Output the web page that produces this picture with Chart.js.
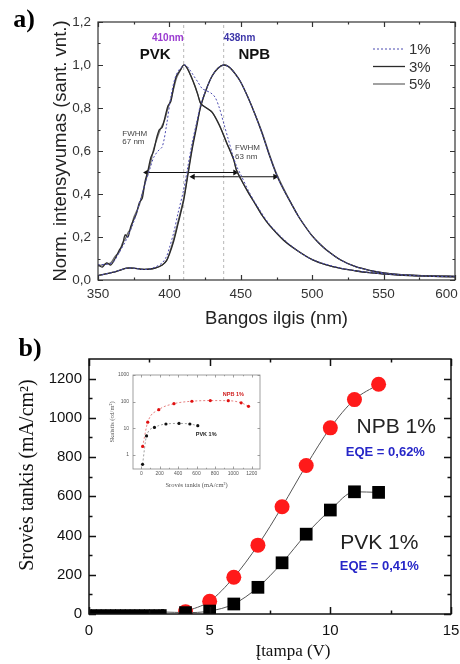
<!DOCTYPE html>
<html>
<head>
<meta charset="utf-8">
<script src="https://cdn.jsdelivr.net/npm/chart.js@4.4.1/dist/chart.umd.min.js"></script>
<style>
  html, body { margin: 0; padding: 0; background: #fff; }
  #wrap { position: relative; width: 460px; height: 664px; overflow: hidden; }
  canvas { position: absolute; }
</style>
</head>
<body>
<div id="wrap">
  <canvas id="chartA" width="460" height="330" style="left:0;top:0"></canvas>
  <canvas id="chartB" width="460" height="334" style="left:0;top:330px"></canvas>
  <canvas id="inset" width="170" height="135" style="left:100px;top:360px"></canvas>
</div>
<script>
// ---- a) normalised EL spectra ----
var pvkWl = [350,353,356,359,362,365,367,369,371,373,375,377,379,381,383,385,387,389,391,393,395,397,399,401,403,405,408,410,412,415,418,420,422,426,430,435,440,445,447,450,455,460,465,470,480,490,500,510,520,530,540,550,560,580,600];
var pvk3 = [0.07,0.06,0.08,0.07,0.10,0.14,0.16,0.21,0.20,0.25,0.28,0.31,0.36,0.38,0.46,0.51,0.57,0.60,0.66,0.70,0.71,0.76,0.81,0.83,0.90,0.95,0.98,1.00,0.99,0.95,0.90,0.86,0.82,0.80,0.78,0.72,0.64,0.56,0.51,0.47,0.41,0.355,0.30,0.255,0.185,0.135,0.095,0.07,0.054,0.043,0.034,0.028,0.023,0.018,0.015];
var pvk5 = [0.065,0.07,0.075,0.08,0.11,0.13,0.17,0.19,0.22,0.24,0.29,0.32,0.35,0.40,0.45,0.50,0.55,0.61,0.65,0.69,0.72,0.75,0.80,0.84,0.89,0.94,0.98,1.00,0.99,0.95,0.90,0.86,0.82,0.80,0.78,0.72,0.64,0.56,0.51,0.47,0.41,0.355,0.30,0.255,0.185,0.135,0.095,0.07,0.054,0.043,0.034,0.028,0.023,0.018,0.015];
var pvk1Wl = [350,360,365,370,375,380,383,386,389,392,395,398,401,404,407,411,414,417,420,423,426,429,432,435,438,441,444,447,450,455,460,470,480,490,500,520,540,560,580,600];
var pvk1 = [0.07,0.08,0.13,0.19,0.27,0.38,0.45,0.51,0.57,0.60,0.62,0.72,0.85,0.94,0.98,1.00,0.98,0.95,0.92,0.89,0.88,0.87,0.85,0.80,0.73,0.66,0.59,0.53,0.49,0.42,0.36,0.26,0.19,0.135,0.095,0.055,0.035,0.024,0.018,0.015];
var npbWl = [350,360,365,370,375,380,385,390,395,398,400,403,406,410,413,416,419,422,426,430,434,438,442,446,450,455,460,465,470,475,480,485,490,495,500,505,510,520,530,540,550,560,570,580,590,600];
var npb3 = [0.02,0.035,0.045,0.055,0.055,0.05,0.05,0.055,0.07,0.09,0.12,0.18,0.26,0.37,0.49,0.61,0.71,0.81,0.89,0.95,0.985,1.00,0.99,0.96,0.92,0.85,0.77,0.68,0.58,0.49,0.42,0.36,0.30,0.25,0.205,0.17,0.14,0.093,0.063,0.045,0.033,0.026,0.022,0.02,0.018,0.017];
var npb5 = [0.02,0.035,0.045,0.055,0.055,0.05,0.05,0.055,0.07,0.09,0.125,0.19,0.27,0.38,0.50,0.62,0.72,0.81,0.89,0.95,0.985,1.00,0.99,0.96,0.92,0.85,0.77,0.685,0.585,0.495,0.425,0.36,0.30,0.25,0.205,0.17,0.14,0.093,0.063,0.045,0.033,0.026,0.022,0.02,0.018,0.017];
var npb1 = [0.02,0.035,0.045,0.055,0.055,0.05,0.05,0.06,0.08,0.11,0.15,0.22,0.31,0.42,0.53,0.64,0.73,0.82,0.89,0.95,0.985,1.00,0.99,0.96,0.92,0.85,0.77,0.68,0.58,0.49,0.42,0.36,0.30,0.25,0.205,0.17,0.14,0.093,0.063,0.045,0.033,0.026,0.022,0.02,0.018,0.017];
var peakWl = [410, 438];
var fwhmPvk = [384, 446];   // at 0.5
var fwhmNpb = [416.5, 474]; // at 0.48
var aTicksX = [350, 400, 450, 500, 550, 600];
var aTicksY = [0, 0.2, 0.4, 0.6, 0.8, 1.0, 1.2];

// ---- b) J-V ----
var lowVolt = [0,0.2,0.4,0.6,0.8,1,1.2,1.4,1.6,1.8,2,2.2,2.4,2.6,2.8,3,3.1];
var lowPvk = [10,10,10,10,10,10,10,10,10,10,10,10,10,10,10,10,10];
var volt = [4,5,6,7,8,9,10,11,12];
var npbJ = [12,65,187,351,547,757,949,1093,1171];
var pvkJ = [7,15,51,136,261,407,530,623,620];
var bTicksX = [0, 5, 10, 15];
var bTicksY = [0, 200, 400, 600, 800, 1000, 1200];

// ---- inset: luminance vs current density ----
var insetNpbJ = [15,70,190,355,550,750,945,1085,1165];
var insetNpbL = [2.1,17,50,84,104,110,109,91,67];
var insetPvkJ = [14,57,143,268,410,528,614];
var insetPvkL = [0.45,5.2,10.8,14.6,15.3,14.6,12.6];
var insetTicksX = [0, 200, 400, 600, 800, 1000, 1200];
var insetTicksY = [1, 10, 100, 1000];

var SANS = '"Liberation Sans", Arial, sans-serif';
var SERIF = '"Liberation Serif", "Times New Roman", serif';

const pts = (xs, ys) => xs.map((v, i) => ({ x: v, y: ys[i] }));
const useTicks = arr => s => { s.ticks = arr.map(v => ({ value: v })); };
// fixed axis box sizes so the plot areas land where the figure has them
const fitX = h => s => { s.height = h; s.paddingLeft = 0; s.paddingRight = 0; };
const fitY = w => s => { s.width = w; s.paddingTop = 0; s.paddingBottom = 0; };

// box round the plot with inward ticks on all four sides (Origin style)
const frameTicks = {
  id: 'frameTicks',
  afterDatasetsDraw(chart, args, o) {
    const { ctx, chartArea: a } = chart;
    const x = chart.scales.x, y = chart.scales.y;
    const mids = v => v.slice(1).map((b, i) => (v[i] + b) / 2);
    const xv = x.ticks.map(t => t.value), yv = y.ticks.map(t => t.value);
    ctx.save();
    ctx.strokeStyle = o.color;
    ctx.lineWidth = o.width;
    ctx.beginPath();
    const xs = (vals, len) => vals.forEach(v => {
      const p = Math.round(x.getPixelForValue(v)) + 0.5;
      ctx.moveTo(p, a.bottom); ctx.lineTo(p, a.bottom - len);
      ctx.moveTo(p, a.top); ctx.lineTo(p, a.top + len);
    });
    const ys = (vals, len) => vals.forEach(v => {
      const p = Math.round(y.getPixelForValue(v)) + 0.5;
      ctx.moveTo(a.left, p); ctx.lineTo(a.left + len, p);
      ctx.moveTo(a.right, p); ctx.lineTo(a.right - len, p);
    });
    xs(xv, o.len);
    ys(yv, o.len);
    if (o.minor) {
      xs(mids(xv), o.len / 2);
      if (o.minorY !== false) ys(mids(yv), o.len / 2);
    }
    ctx.stroke();
    ctx.strokeRect(a.left, a.top, a.right - a.left, a.bottom - a.top);
    ctx.restore();
  }
};

function notes(items) {
  return {
    id: 'notes',
    afterDatasetsDraw(chart) {
      const { ctx } = chart;
      const x = chart.scales.x, y = chart.scales.y;
      items.forEach(n => {
        ctx.save();
        ctx.font = n.font;
        ctx.fillStyle = n.color || '#222';
        ctx.textAlign = n.align || 'center';
        ctx.textBaseline = 'middle';
        const px = n.x !== undefined ? x.getPixelForValue(n.x) : n.px;
        const py = n.y !== undefined ? y.getPixelForValue(n.y) : n.py;
        ctx.translate(px, py);
        if (n.rot) ctx.rotate(n.rot);
        ctx.fillText(n.text, 0, 0);
        ctx.restore();
      });
    }
  };
}

const legendA = {
  id: 'legendA',
  afterDatasetsDraw(chart) {
    const ctx = chart.ctx;
    ctx.save();
    chart.data.datasets.filter(d => d.legendText).forEach((d, i) => {
      const yy = 49 + i * 17.5;
      ctx.strokeStyle = d.borderColor;
      ctx.lineWidth = d.borderWidth;
      ctx.setLineDash(d.borderDash || []);
      ctx.beginPath();
      ctx.moveTo(373, yy); ctx.lineTo(405, yy);
      ctx.stroke();
      ctx.setLineDash([]);
      ctx.font = '15px ' + SANS;
      ctx.fillStyle = '#333';
      ctx.textAlign = 'left';
      ctx.textBaseline = 'middle';
      ctx.fillText(d.legendText, 409, yy + 1);
    });
    ctx.restore();
  }
};

function spectrum(xs, ys, color, width, dash, legendText) {
  return {
    data: pts(xs, ys), borderColor: color, borderWidth: width, borderDash: dash,
    legendText: legendText, pointRadius: 0, tension: 0.3
  };
}

function arrow(xs, level) {
  return {
    data: pts(xs, xs.map(() => level)), borderColor: '#111', borderWidth: 1.1,
    pointStyle: 'triangle', pointRadius: 3.5, pointRotation: [-90, 90],
    pointBackgroundColor: '#111', pointBorderWidth: 0, tension: 0
  };
}

function marker(wl) {
  return {
    data: [{ x: wl, y: 0 }, { x: wl, y: 1.2 }], borderColor: '#b8b8b8',
    borderWidth: 1, borderDash: [3, 3], pointRadius: 0
  };
}

new Chart(document.getElementById('chartA'), {
  type: 'line',
  data: {
    datasets: [
      spectrum(pvk1Wl, pvk1, '#4b4bb0', 1, [2, 2], '1%'),
      spectrum(pvkWl, pvk3, '#2b2b2b', 1.3, [], '3%'),
      spectrum(pvkWl, pvk5, '#6e6e6e', 1.3, [], '5%'),
      spectrum(npbWl, npb1, '#4b4bb0', 1, [2, 2]),
      spectrum(npbWl, npb3, '#2b2b2b', 1.3, []),
      spectrum(npbWl, npb5, '#6e6e6e', 1.3, []),
      arrow(fwhmPvk, 0.5),
      arrow(fwhmNpb, 0.48),
      marker(peakWl[0]),
      marker(peakWl[1])
    ]
  },
  options: {
    responsive: false,
    animation: false,
    layout: { padding: { left: 50, right: 5, top: 22, bottom: 0 } },
    plugins: {
      legend: { display: false },
      tooltip: { enabled: false },
      frameTicks: { color: '#333', width: 1.2, len: 5, minor: true }
    },
    scales: {
      x: {
        type: 'linear', min: 350, max: 600,
        afterBuildTicks: useTicks(aTicksX),
        afterFit: fitX(50),
        grid: { display: false, drawTicks: false },
        border: { display: false },
        // last label is pulled inside the page below, as in the figure
        ticks: { padding: 6, maxRotation: 0, color: '#333', font: { family: SANS, size: 13.5 },
          callback: v => (v === aTicksX[aTicksX.length - 1] ? '' : String(v)) },
        title: { display: true, text: 'Bangos ilgis (nm)', color: '#222', padding: 0, font: { family: SANS, size: 18.5 } }
      },
      y: {
        min: 0, max: 1.2,
        afterBuildTicks: useTicks(aTicksY),
        afterFit: fitY(48),
        grid: { display: false, drawTicks: false },
        border: { display: false },
        ticks: { padding: 7, color: '#333', font: { family: SANS, size: 13.5 },
          callback: v => v.toFixed(1).replace('.', ',') },
        title: { display: true, text: 'Norm. intensyvumas (sant. vnt.)', color: '#222', padding: 0, font: { family: SANS, size: 18.5 } }
      }
    }
  },
  plugins: [frameTicks, legendA, notes([
    { px: 24, py: 20, text: 'a)', font: 'bold 26px ' + SERIF, color: '#000' },
    { x: 602, py: 294, text: String(aTicksX[aTicksX.length - 1]), align: 'right', font: '13.5px ' + SANS, color: '#333' },
    { x: 410, y: 1.126, text: '410nm', align: 'right', font: 'bold 10px ' + SANS, color: '#9a3ad0' },
    { x: 438, y: 1.126, text: '438nm', align: 'left', font: 'bold 10px ' + SANS, color: '#3c35a8' },
    { x: 390, y: 1.047, text: 'PVK', font: 'bold 15px ' + SANS, color: '#111' },
    { x: 459.5, y: 1.047, text: 'NPB', font: 'bold 15px ' + SANS, color: '#111' },
    { x: 367, y: 0.68, text: 'FWHM', align: 'left', font: '8px ' + SANS, color: '#444' },
    { x: 367, y: 0.645, text: '67 nm', align: 'left', font: '8px ' + SANS, color: '#444' },
    { x: 446, y: 0.615, text: 'FWHM', align: 'left', font: '8px ' + SANS, color: '#444' },
    { x: 446, y: 0.575, text: '63 nm', align: 'left', font: '8px ' + SANS, color: '#444' }
  ])]
});

function jvSet(xs, ys, color, style, bigR, order) {
  return {
    data: pts(xs, ys), order: order,
    borderColor: '#555', borderWidth: 1, cubicInterpolationMode: 'monotone',
    pointStyle: style, pointBackgroundColor: color, pointBorderWidth: 0,
    pointRadius: c => (c.raw && c.raw.x < 3.5 ? 4 : bigR)
  };
}

new Chart(document.getElementById('chartB'), {
  type: 'line',
  data: {
    datasets: [
      jvSet(lowVolt.concat(volt), lowPvk.concat(pvkJ), '#000', 'rect', 9, 0),
      jvSet(volt, npbJ, '#ff1a1a', 'circle', 7.5, 1)
    ]
  },
  options: {
    responsive: false,
    animation: false,
    layout: { padding: { left: 17, right: 7, top: 29, bottom: 0 } },
    plugins: {
      legend: { display: false },
      tooltip: { enabled: false },
      frameTicks: { color: '#111', width: 1.5, len: 7, minor: true }
    },
    scales: {
      x: {
        type: 'linear', min: 0, max: 15,
        afterBuildTicks: useTicks(bTicksX),
        afterFit: fitX(50),
        grid: { display: false, drawTicks: false },
        border: { display: false },
        ticks: { padding: 8, maxRotation: 0, color: '#111', font: { family: SANS, size: 15 } },
        title: { display: false }
      },
      y: {
        min: 0, max: 1300,
        afterBuildTicks: useTicks(bTicksY),
        afterFit: fitY(72),
        grid: { display: false, drawTicks: false },
        border: { display: false },
        ticks: { padding: 7, color: '#111', font: { family: SANS, size: 15 }, callback: v => String(v) },
        title: { display: false }
      }
    }
  },
  plugins: [frameTicks, notes([
    { px: 30, py: 19, text: 'b)', font: 'bold 26px ' + SERIF, color: '#000' },
    { px: 28, py: 145, rot: -Math.PI / 2, text: 'Srovės tankis (mA/cm²)', font: '20px ' + SERIF, color: '#111' },
    { px: 293, py: 322, text: 'Įtampa (V)', font: '17px ' + SERIF, color: '#111' },
    { x: 12.73, y: 953, text: 'NPB 1%', font: '21px ' + SANS, color: '#222' },
    { x: 12.28, y: 826, text: 'EQE = 0,62%', font: 'bold 13px ' + SANS, color: '#2727c8' },
    { x: 12.03, y: 362, text: 'PVK 1%', font: '21px ' + SANS, color: '#222' },
    { x: 12.03, y: 245, text: 'EQE = 0,41%', font: 'bold 13px ' + SANS, color: '#2727c8' }
  ])]
});

new Chart(document.getElementById('inset'), {
  type: 'line',
  data: {
    datasets: [
      { data: pts(insetNpbJ, insetNpbL), borderColor: '#e06060', borderWidth: 0.8, borderDash: [2, 2],
        cubicInterpolationMode: 'monotone', pointRadius: 1.6, pointBackgroundColor: '#e01010', pointBorderWidth: 0 },
      { data: pts(insetPvkJ, insetPvkL), borderColor: '#888', borderWidth: 0.8, borderDash: [2, 2],
        cubicInterpolationMode: 'monotone', pointRadius: 1.6, pointBackgroundColor: '#111', pointBorderWidth: 0 }
    ]
  },
  options: {
    responsive: false,
    animation: false,
    layout: { padding: { left: 8, right: 10, top: 15, bottom: 0 } },
    plugins: {
      legend: { display: false },
      tooltip: { enabled: false },
      frameTicks: { color: '#888', width: 0.8, len: 2.5, minor: true, minorY: false }
    },
    scales: {
      x: {
        type: 'linear', min: -90, max: 1290,
        afterBuildTicks: useTicks(insetTicksX),
        afterFit: fitX(26),
        grid: { display: false, drawTicks: false },
        border: { display: false },
        ticks: { padding: 2, maxRotation: 0, color: '#555', font: { family: SANS, size: 5 }, callback: v => String(v) },
        title: { display: true, text: 'Srovės tankis (mA/cm²)', color: '#555', padding: { top: 0, bottom: 6 }, font: { family: SERIF, size: 6.5 } }
      },
      y: {
        type: 'logarithmic', min: 0.3, max: 1000,
        afterBuildTicks: useTicks(insetTicksY),
        afterFit: fitY(25),
        grid: { display: false, drawTicks: false },
        border: { display: false },
        ticks: { padding: 4, color: '#555', font: { family: SANS, size: 5 }, callback: v => String(v) },
        title: { display: true, text: 'Skaistis (cd/m²)', color: '#555', padding: 0, font: { family: SERIF, size: 6.5 } }
      }
    }
  },
  plugins: [frameTicks, notes([
    { x: 1000, y: 185, text: 'NPB 1%', font: 'bold 5.5px ' + SANS, color: '#d02020' },
    { x: 705, y: 6, text: 'PVK 1%', font: 'bold 5.5px ' + SANS, color: '#222' }
  ])]
});
</script>
</body>
</html>
